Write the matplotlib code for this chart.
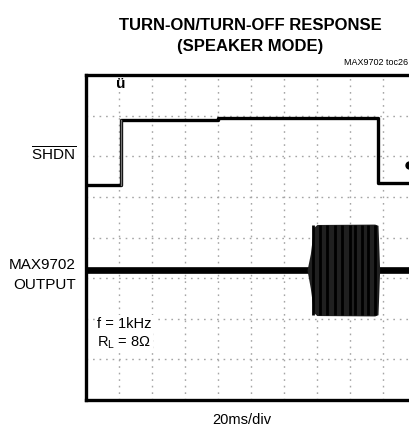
import numpy as np
import matplotlib
matplotlib.use('Agg')
import matplotlib.pyplot as plt

plt.rcParams['font.family'] = ['Liberation Sans', 'DejaVu Sans']
plt.rcParams['mathtext.fontset'] = 'custom'
plt.rcParams['mathtext.rm'] = 'Liberation Sans'
plt.rcParams['mathtext.it'] = 'Liberation Sans'

# time in ms (20ms/div, 10 div), amplitude in scope divisions (8 div)
shdn_t = [0, 21, 21, 80, 80, 177, 177, 200]
shdn_v = [1.29, 1.29, 2.90, 2.90, 2.95, 2.95, 1.34, 1.34]

out_base = -0.80
burst_t = [134, 136, 138, 140, 175, 177, 178]
burst_top = [-0.80, -0.40, 0.25, 0.32, 0.33, 0.30, -0.80]
burst_bot = [-0.80, -1.25, -1.85, -1.92, -1.93, -1.90, -0.80]
stripe_t = [137.6, 141.8, 146.0, 150.9, 155.2, 160.0, 163.0, 167.3, 170.9, 175.2]

fig = plt.figure(figsize=(4.09, 4.33), dpi=100)
ax = fig.add_axes([0.210, 0.076, 0.807, 0.751])
ax.set_xlim(0, 200)
ax.set_ylim(-4, 4)

for xv in np.arange(20, 200, 20):
    ax.axvline(xv, color='#a5a5a5', lw=1.0, ls=(0, (1.2, 3.5)), zorder=1)
for yv in np.arange(-3, 4, 1):
    ax.axhline(yv, color='#a5a5a5', lw=1.0, ls=(0, (1.2, 3.5)), zorder=1)

# SHDN trace
ax.plot(shdn_t, shdn_v, color='black', lw=2.4, zorder=3)
ax.plot([21, 21], [1.29, 2.90], color='#777777', lw=1.0, zorder=3)

# output trace
ax.plot([0, 200], [out_base, out_base], color='black', lw=4.8, zorder=3)
ax.fill_between(burst_t, burst_bot, burst_top, color='#202020', lw=0, zorder=3)
ax.vlines(stripe_t, -1.9, 0.3, color='black', lw=2.0, zorder=4)

# trigger markers
ax.text(21, 3.78, 'ü', ha='center', va='center', fontsize=11, fontweight='bold', zorder=5)
ax.plot([195.5], [1.78], 'o', color='black', ms=5, zorder=5)

for side in ['left', 'top', 'bottom']:
    ax.spines[side].set_linewidth(2.4)
ax.spines['right'].set_visible(False)
ax.set_xticks([])
ax.set_yticks([])

ax.text(7, -2.12, 'f = 1kHz', fontsize=10.5, ha='left', va='center',
        bbox=dict(facecolor='white', edgecolor='none', pad=1.5), zorder=6)
ax.text(7, -2.58, r'R$_\mathrm{L}$ = 8$\Omega$', fontsize=10.5, ha='left', va='center',
        bbox=dict(facecolor='white', edgecolor='none', pad=1.5), zorder=6)

fig.text(0.611, 0.942, 'TURN-ON/TURN-OFF RESPONSE', ha='center', va='center',
         fontsize=12, fontweight='heavy')
fig.text(0.611, 0.892, '(SPEAKER MODE)', ha='center', va='center',
         fontsize=12, fontweight='heavy')
fig.text(0.998, 0.856, 'MAX9702 toc26', ha='right', va='center', fontsize=6.5)

fig.text(0.186, 0.642, r'$\overline{\mathrm{SHDN}}$', ha='right', va='center', fontsize=11)
fig.text(0.186, 0.388, 'MAX9702', ha='right', va='center', fontsize=11)
fig.text(0.186, 0.341, 'OUTPUT', ha='right', va='center', fontsize=11)
fig.text(0.592, 0.030, '20ms/div', ha='center', va='center', fontsize=10.5)

fig.savefig('out.png', dpi=100)
